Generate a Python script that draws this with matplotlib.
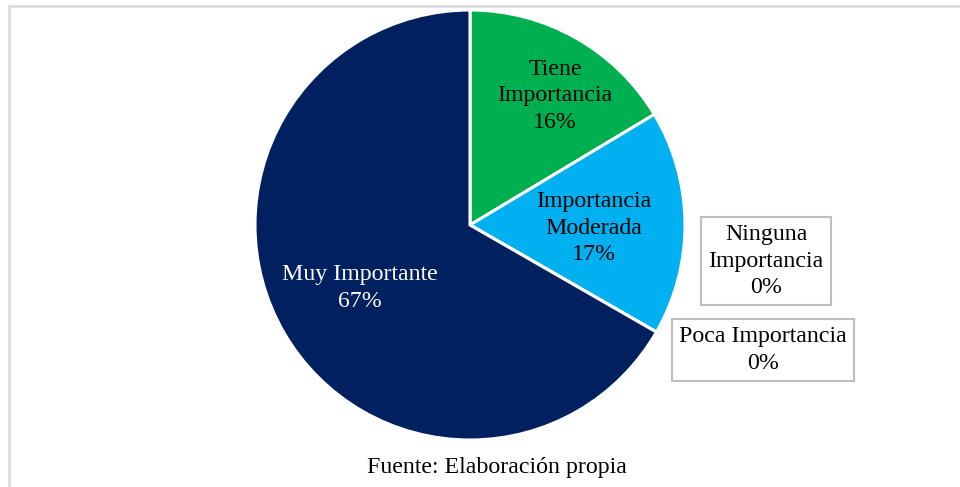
import matplotlib
matplotlib.use("Agg")
import matplotlib.pyplot as plt
from matplotlib.patches import Rectangle

plt.rcParams['font.family'] = ['Liberation Serif', 'DejaVu Serif']

# data (clockwise from 12 o'clock)
categories = ["Tiene\nImportancia", "Importancia\nModerada", "Ninguna\nImportancia",
              "Poca Importancia", "Muy Importante"]
values = [16.4, 16.9, 0.0, 0.0, 66.7]
colors = ["#00B050", "#00B0F0", "#FFFFFF", "#FFFFFF", "#002060"]
text_colors = ["black", "black", "black", "black", "white"]
source = "Fuente: Elaboración propia"

W, H = 960, 487
fig = plt.figure(figsize=(W / 100, H / 100), dpi=100)
ax = fig.add_axes([0, 0, 1, 1])

# outer frame
fig.patches.append(Rectangle((9, -20), W + 20, H - 6 + 20, transform=None,
                             fill=False, edgecolor="#D9D9D9", linewidth=1.8))

cx, cy, r = 470, H - 225, 215
wedges, _ = ax.pie(values, colors=colors, startangle=90, counterclock=False,
                   center=(cx, cy), radius=r, frame=True,
                   wedgeprops=dict(edgecolor="white", linewidth=2.2))
ax.set_xlim(0, W)
ax.set_ylim(0, H)
ax.set_aspect('equal')
ax.axis('off')

# label positions (image coords)
label_pos = [(555, 96), (594, 228), (766, 261), (763, 350), (360, 288)]
boxed = [False, False, True, True, False]
total = sum(values)
fs = 17.2
for cat, v, (x, y), tc, b in zip(categories, values, label_pos, text_colors, boxed):
    txt = f"{cat}\n{round(v / total * 100):.0f}%"
    kw = {}
    if b:
        kw['bbox'] = dict(boxstyle="square,pad=0.3", facecolor="white",
                          edgecolor="#BFBFBF", linewidth=1.5)
    ax.text(x, H - y, txt, ha="center", va="center", fontsize=fs,
            color=tc, linespacing=1.36, **kw)

ax.text(497, H - 468, source, ha="center", va="center", fontsize=fs, color="black")

fig.savefig("out.png", dpi=100)
